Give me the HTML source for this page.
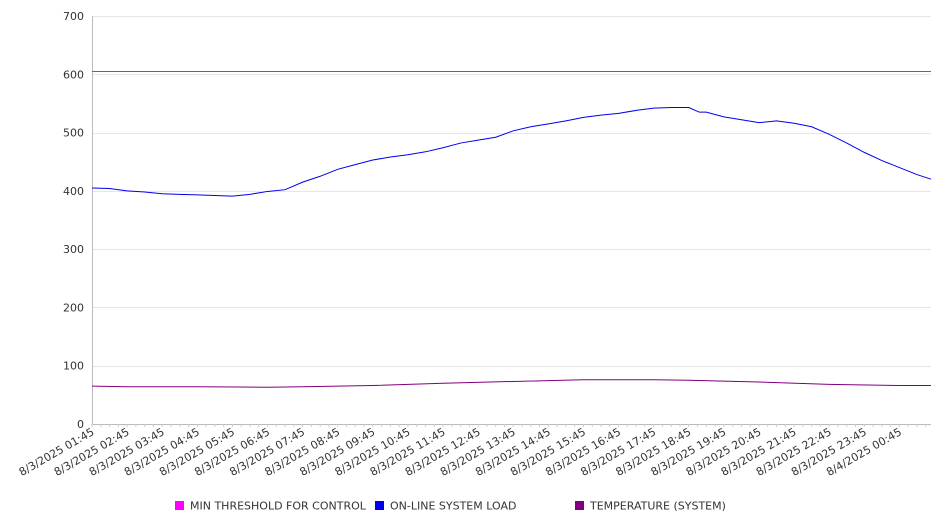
<!DOCTYPE html>
<html><head><meta charset="utf-8"><style>
body{margin:0;background:#fff;width:946px;height:526px;overflow:hidden;font-family:"DejaVu Sans","Liberation Sans",sans-serif;}
svg text{font-family:"DejaVu Sans","Liberation Sans",sans-serif;}
</style></head><body>
<svg id="chart" width="946" height="526" xmlns="http://www.w3.org/2000/svg"></svg>
<script>
const tickLabels=["8/3/2025 01:45","8/3/2025 02:45","8/3/2025 03:45","8/3/2025 04:45","8/3/2025 05:45","8/3/2025 06:45","8/3/2025 07:45","8/3/2025 08:45","8/3/2025 09:45","8/3/2025 10:45","8/3/2025 11:45","8/3/2025 12:45","8/3/2025 13:45","8/3/2025 14:45","8/3/2025 15:45","8/3/2025 16:45","8/3/2025 17:45","8/3/2025 18:45","8/3/2025 19:45","8/3/2025 20:45","8/3/2025 21:45","8/3/2025 22:45","8/3/2025 23:45","8/4/2025 00:45"];
const yTicks=[0,100,200,300,400,500,600,700];
const hours=[0,0.5,1,1.5,2,2.5,3,3.5,4,4.5,5,5.5,6,6.5,7,7.5,8,8.5,9,9.5,10,10.5,11,11.5,12,12.5,13,13.5,14,14.5,15,15.5,16,16.5,17,17.3,17.5,18,18.5,19,19.5,20,20.5,21,21.5,22,22.5,23,23.5,23.9];
const loadValues=[405,404,400,398,395,394,393,392,391,394,399,402,415,425,437,445,453,458,462,467,474,482,487,492,503,510,515,520,526,530,533,538,542,543,543,535,535,527,522,517,520,516,510,497,482,466,452,440,428,420];
const tempHours=[0,1,3,5,6,8,10,12,14,16,17,19,21,23,23.9];
const tempValues=[65,64,64,63,64,66,70,73,76,76,75,72,68,66,66];
const thresholdValues=[605,605];
const thresholdHours=[0,23.9];
const svg=document.getElementById('chart');const NS='http://www.w3.org/2000/svg';
const X0=92,X1=931,Y0=424,Y1=16,HMAX=23.9;
const xs=h=>X0+(X1-X0)*h/HMAX;const ys=v=>Y0-(Y0-Y1)*v/700;
function mk(t,a){const e=document.createElementNS(NS,t);for(const k in a)e.setAttribute(k,a[k]);svg.appendChild(e);return e;}
yTicks.forEach(v=>{
const yy=Math.round(ys(v))+0.5;
const g=mk('line',{x1:X0,x2:X1,y1:yy,y2:yy,stroke:v===0?'#bbb':'#e6e6e6','stroke-width':1});


const t=mk('text',{x:84,y:ys(v)+4,'text-anchor':'end','font-size':11,fill:'#333'});t.textContent=v;


});
const ax=mk('line',{x1:X0+0.5,x2:X0+0.5,y1:Y1,y2:Y0,stroke:'#bbb'});


for(let h=0;h<=HMAX;h+=0.25){const m=mk('line',{x1:xs(h),x2:xs(h),y1:Y0,y2:Y0+3,stroke:'#ccc'});

}
tickLabels.forEach((s,i)=>{const x=xs(i)+3,y=Y0+10;
const t=mk('text',{x:x,y:y,'text-anchor':'end','font-size':11,fill:'#333',transform:`rotate(-30 ${x} ${y})`});t.textContent=s;

});
function line(hh,vv,c,n,crisp){const p=mk('polyline',{points:hh.map((h,i)=>xs(h)+','+(crisp?Math.round(ys(vv[i]))+0.5:ys(vv[i]))).join(' '),fill:'none',stroke:c,'stroke-width':1});

}
line(thresholdHours,thresholdValues,'#ff00ff','min-threshold-line',true);
line(hours,loadValues,'#0000ee','system-load-line');
line(tempHours,tempValues,'#800080','temperature-line');
const leg=[['MIN THRESHOLD FOR CONTROL','#ff00ff',175],['ON-LINE SYSTEM LOAD','#0000ee',375],['TEMPERATURE (SYSTEM)','#800080',575]];
leg.forEach(l=>{const r=mk('rect',{x:l[2],y:501,width:9,height:9,fill:l[1]});


const t=mk('text',{x:l[2]+15,y:509.5,'font-size':11,fill:'#333'});t.textContent=l[0];

});
</script>
</body></html>
